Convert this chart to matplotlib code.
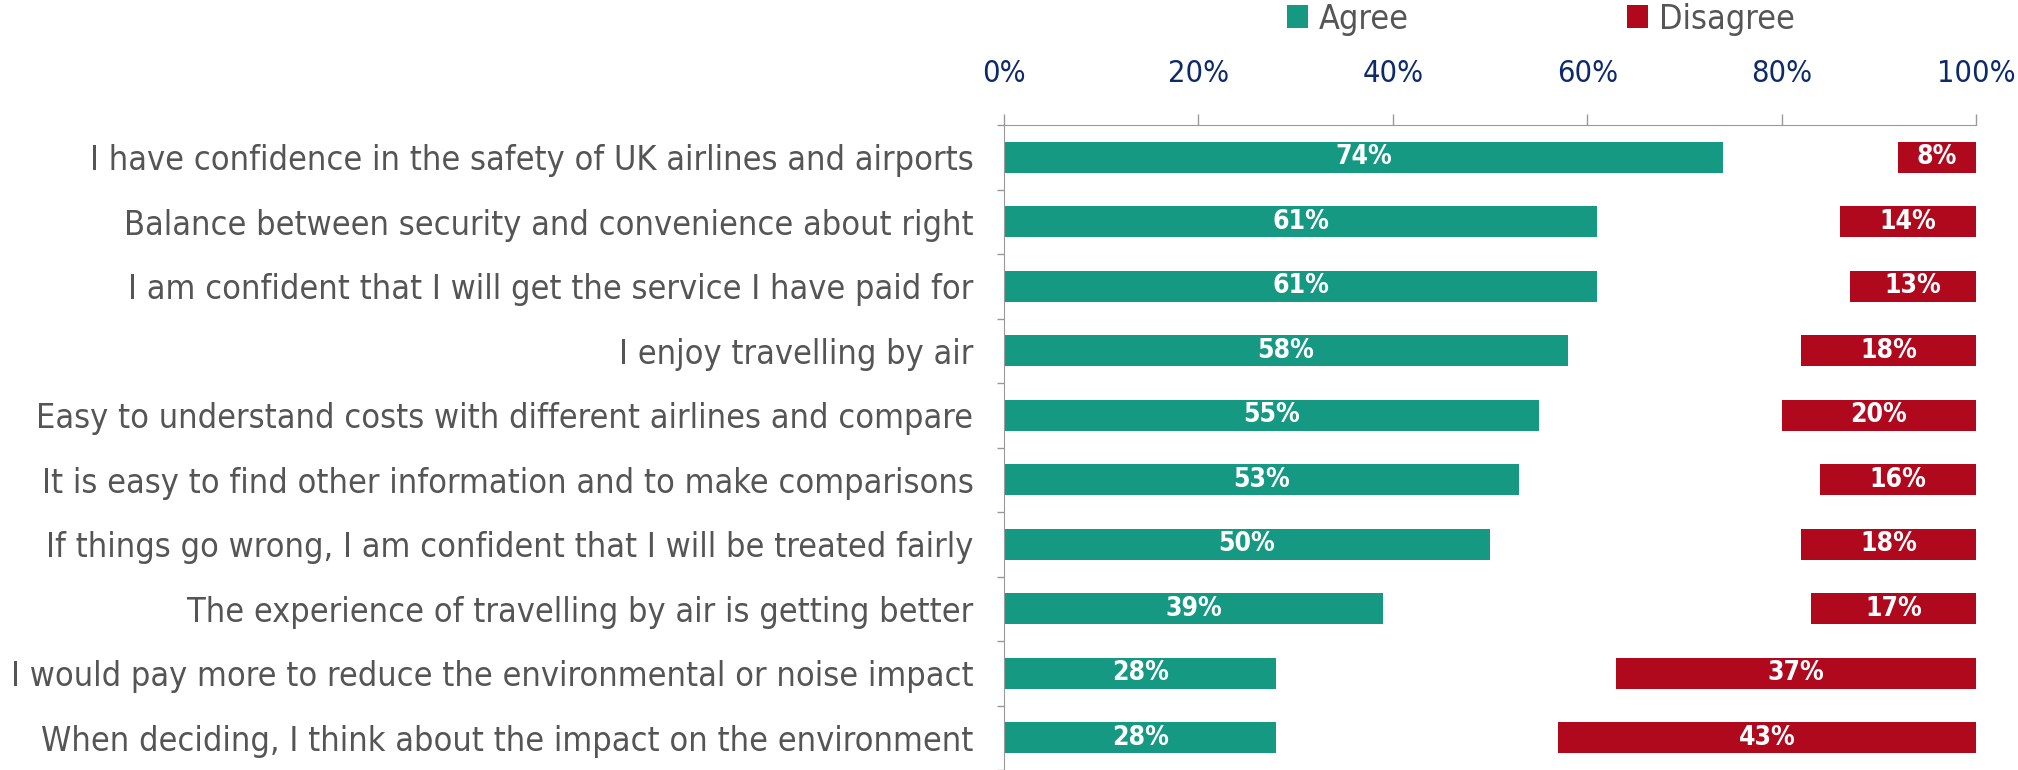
import matplotlib
matplotlib.use("Agg")
import matplotlib.pyplot as plt
from matplotlib.patches import Patch
import numpy as np

# survey statements, top to bottom
categories = [
    "I have confidence in the safety of UK airlines and airports",
    "Balance between security and convenience about right",
    "I am confident that I will get the service I have paid for",
    "I enjoy travelling by air",
    "Easy to understand costs with different airlines and compare",
    "It is easy to find other information and to make comparisons",
    "If things go wrong, I am confident that I will be treated fairly",
    "The experience of travelling by air is getting better",
    "I would pay more to reduce the environmental or noise impact",
    "When deciding, I think about the impact on the environment",
]
agree = [74, 61, 61, 58, 55, 53, 50, 39, 28, 28]
disagree = [8, 14, 13, 18, 20, 16, 18, 17, 37, 43]
x_ticks = [0, 20, 40, 60, 80, 100]

GREEN = "#169983"
RED = "#B0091E"
NAVY = "#0D2A6B"
GREY = "#555555"

plt.rcParams["font.family"] = "DejaVu Sans"
plt.rcParams["font.stretch"] = "condensed"

fig = plt.figure(figsize=(20.18, 7.7), dpi=100)
ax = fig.add_axes([1004 / 2018, 0.0, 972 / 2018, 645 / 770])

y = np.arange(len(categories))
bars_a = ax.barh(y, agree, height=0.48, color=GREEN, label="Agree")
left_d = [100 - d for d in disagree]
bars_d = ax.barh(y, disagree, left=left_d, height=0.48, color=RED, label="Disagree")

for b, v in zip(bars_a, agree):
    ax.text(b.get_x() + b.get_width() / 2, b.get_y() + b.get_height() / 2,
            f"{v}%", ha="center", va="center", color="white", fontsize=19,
            fontweight="bold")
for b, v in zip(bars_d, disagree):
    ax.text(b.get_x() + b.get_width() / 2, b.get_y() + b.get_height() / 2,
            f"{v}%", ha="center", va="center", color="white", fontsize=19,
            fontweight="bold")

ax.set_xlim(0, 100)
ax.set_ylim(len(categories) - 0.5, -0.5)

# top axis with percentages
ax.xaxis.tick_top()
ax.set_xticks(x_ticks)
ax.set_xticklabels([f"{t}%" for t in x_ticks])
ax.tick_params(axis="x", which="major", direction="out", length=8, width=1,
               color="#999999", pad=19, labelsize=22, labelcolor=NAVY)

ax.set_yticks(y)
ax.set_yticklabels(categories)
ax.set_yticks(np.arange(len(categories) + 1) - 0.5, minor=True)
ax.tick_params(axis="y", which="major", length=0, pad=22, labelsize=24.6, labelcolor=GREY)
ax.tick_params(axis="y", which="minor", length=5, width=1, color="#999999")

for s in ["right", "bottom"]:
    ax.spines[s].set_visible(False)
ax.spines["top"].set_color("#999999")
ax.spines["left"].set_color("#999999")

handles = [Patch(facecolor=GREEN, label="Agree"), Patch(facecolor=RED, label="Disagree")]
fig.legend(handles=handles, loc="center left", bbox_to_anchor=(1287 / 2018, 1 - 19 / 770),
           ncol=2, frameon=False, fontsize=24.5, labelcolor=GREY, handlelength=0.62,
           handleheight=0.62, handletextpad=0.32, columnspacing=6.4,
           borderpad=0, borderaxespad=0)

fig.savefig("out.png", dpi=100)
